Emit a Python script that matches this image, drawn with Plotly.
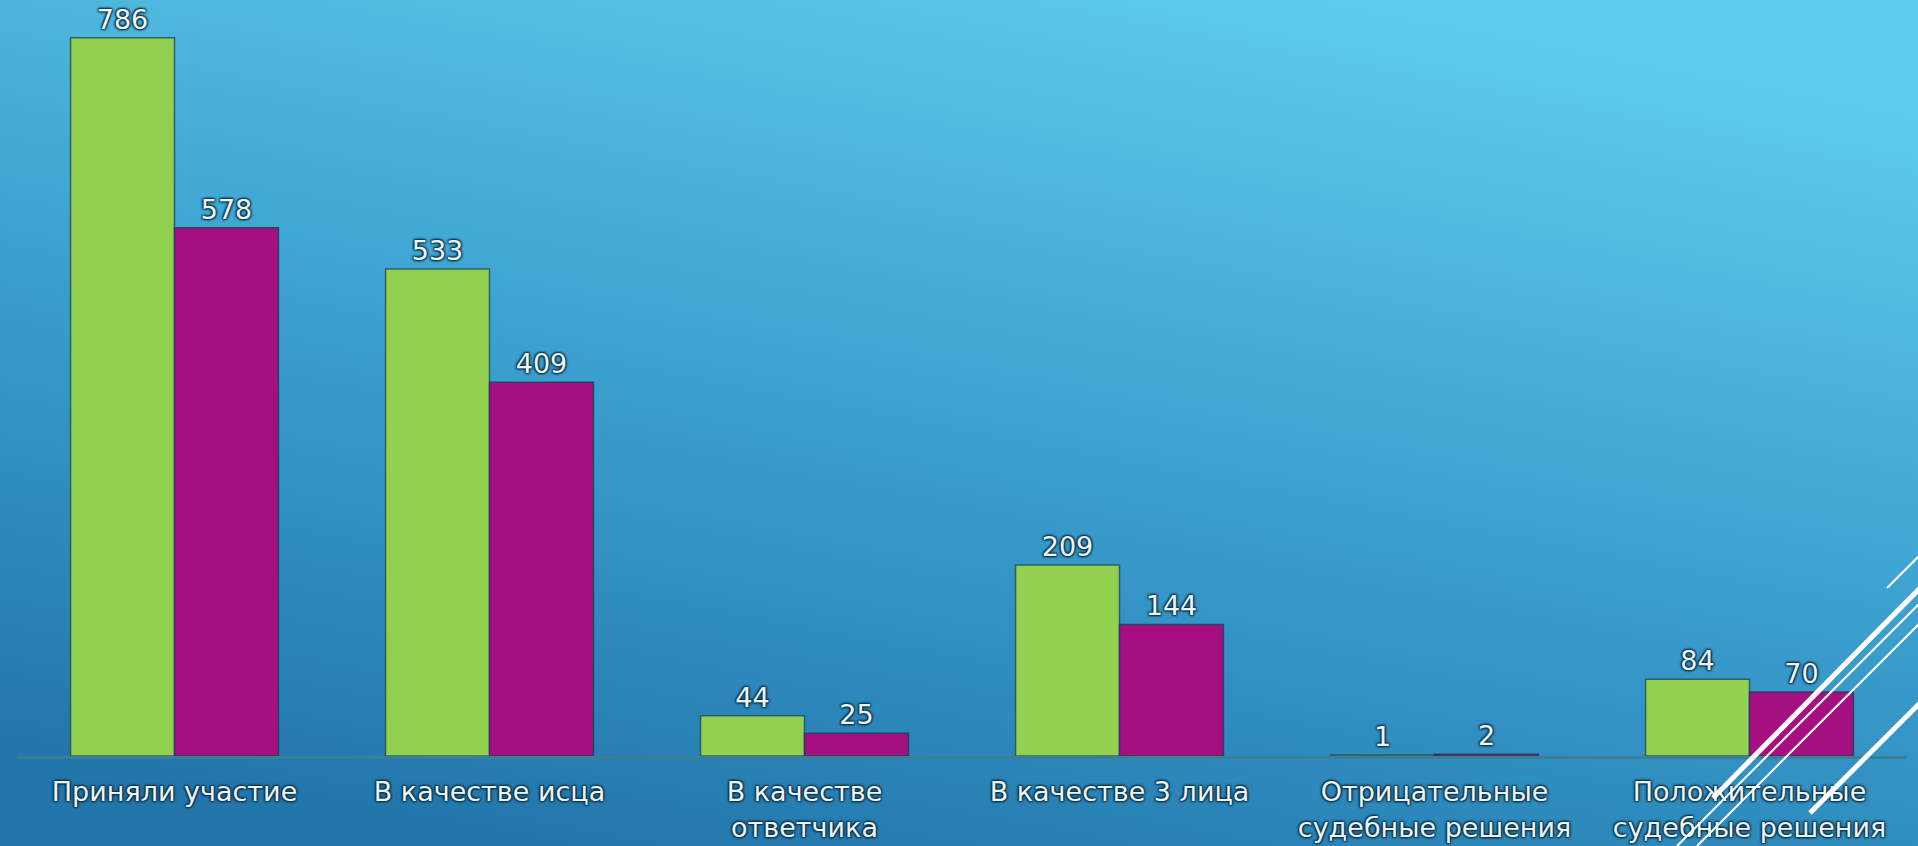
import base64
import plotly.graph_objects as go

categories = [
    "Приняли участие",
    "В качестве исца",
    "В качестве<br>ответчика",
    "В качестве 3 лица",
    "Отрицательные<br>судебные решения",
    "Положительные<br>судебные решения",
]
series_a_name = "Ряд 1"
series_b_name = "Ряд 2"
series_a = [786, 533, 44, 209, 1, 84]
series_b = [578, 409, 25, 144, 2, 70]

W, H = 1918, 846
ML, MR, MT, MB = 17, 11, 25, 90
pw, ph = W - ML - MR, H - MT - MB

svg = f'''<svg xmlns="http://www.w3.org/2000/svg" width="{W}" height="{H}" viewBox="0 0 {W} {H}" preserveAspectRatio="none">
<defs><linearGradient id="g" x1="0.28" y1="1" x2="0.72" y2="0">
<stop offset="0" stop-color="#2276ac"/>
<stop offset="0.5" stop-color="#3ca1d0"/>
<stop offset="1" stop-color="#5ecdeb"/>
</linearGradient></defs>
<rect width="{W}" height="{H}" fill="url(#g)"/>
</svg>'''
bg_uri = "data:image/svg+xml;base64," + base64.b64encode(svg.encode()).decode()

shadow = "1px 1px 2px rgba(10,50,70,0.95), -1px -1px 2px rgba(10,50,70,0.95), 1px -1px 2px rgba(10,50,70,0.9), -1px 1px 2px rgba(10,50,70,0.9)"
FONT = "DejaVu Sans, Verdana, sans-serif"

fig = go.Figure()
fig.add_trace(go.Bar(
    name=series_a_name, x=categories, y=series_a,
    marker=dict(color="#92d050", line=dict(color="rgba(35,80,95,0.85)", width=1.5)),
    text=[str(v) for v in series_a], textposition="outside", cliponaxis=False,
    textfont=dict(family=FONT, size=27, color="#eef3f5", shadow=shadow),
))
fig.add_trace(go.Bar(
    name=series_b_name, x=categories, y=series_b,
    marker=dict(color="#a50f80", line=dict(color="rgba(35,60,95,0.85)", width=1.5)),
    text=[str(v) for v in series_b], textposition="outside", cliponaxis=False,
    textfont=dict(family=FONT, size=27, color="#eef3f5", shadow=shadow),
))

# decorative diagonal lines (bottom-right corner), paper coordinates from pixels
def px_to_paper(x, y):
    return (x - ML) / pw, (H - MB - y) / ph

deco = [
    ((1887, 588), (1930, 545), 2),
    ((1713, 798), (1930, 578), 5),
    ((1677, 846), (1930, 593), 2),
    ((1697, 846), (1930, 613), 2),
    ((1810, 813), (1930, 693), 5),
]
shapes = []
for (x0, y0), (x1, y1), w in deco:
    a0, b0 = px_to_paper(x0, y0)
    a1, b1 = px_to_paper(x1, y1)
    shapes.append(dict(type="line", xref="paper", yref="paper", x0=a0, y0=b0, x1=a1, y1=b1,
                       line=dict(color="white", width=w), layer="above"))

fig.update_layout(
    width=W, height=H,
    margin=dict(l=ML, r=MR, t=MT, b=MB, autoexpand=False),
    paper_bgcolor="rgba(0,0,0,0)", plot_bgcolor="rgba(0,0,0,0)",
    barmode="group", bargap=0.34, bargroupgap=0,
    showlegend=False,
    font=dict(family=FONT, color="#eef3f5"),
    xaxis=dict(
        showline=True, linecolor="#3b7f97", linewidth=3,
        showgrid=False, zeroline=False, automargin=False,
        ticks="outside", ticklen=10, tickcolor="rgba(0,0,0,0)",
        tickfont=dict(family=FONT, size=27, color="#eef3f5", shadow=shadow),
        range=[-0.5, 5.5],
    ),
    yaxis=dict(visible=False, range=[0, 800], showgrid=False, zeroline=False, automargin=False),
    images=[dict(source=bg_uri, xref="paper", yref="paper",
                 x=-ML / pw, y=1 + MT / ph, sizex=W / pw, sizey=H / ph,
                 xanchor="left", yanchor="top", sizing="stretch", layer="below")],
    shapes=shapes,
)

fig.write_html("out.html", config={"displayModeBar": False},
               post_script="document.body.style.margin='0';document.body.style.overflow='hidden';")
